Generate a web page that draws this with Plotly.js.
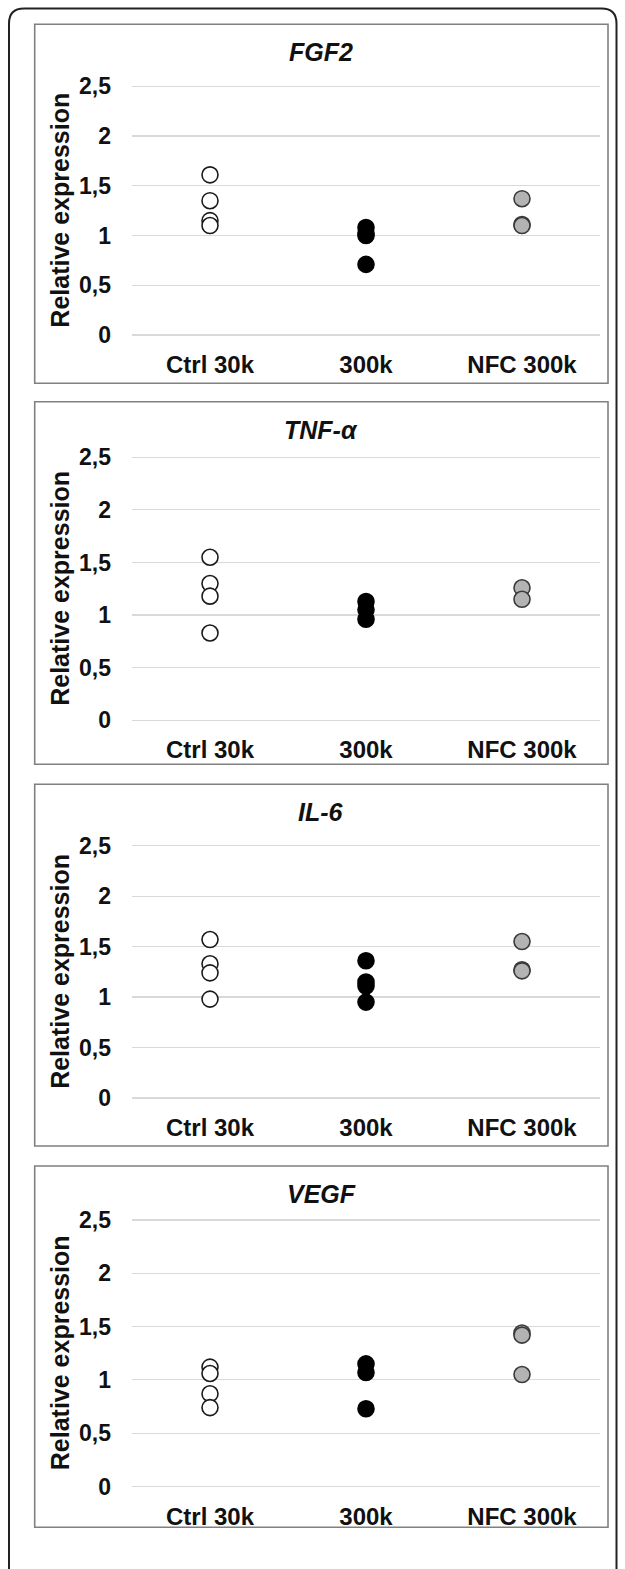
<!DOCTYPE html>
<html>
<head>
<meta charset="utf-8">
<script src="https://cdn.plot.ly/plotly-3.0.1.min.js"></script>
<style>
html,body{margin:0;padding:0;background:#fff;}
#chart{width:625px;height:1569px;}
</style>
</head>
<body>
<div id="chart"></div>
<script>
// ---- data ----
const genes = ["FGF2", "TNF-α", "IL-6", "VEGF"];
const groups = ["Ctrl 30k", "300k", "NFC 300k"];
const yTickVals = [0, 0.5, 1, 1.5, 2, 2.5];
const yTickText = ["0", "0,5", "1", "1,5", "2", "2,5"];
const yTitle = "Relative expression";

const fgf2Ctrl = [1.61, 1.35, 1.15, 1.10];
const fgf2_300k = [1.08, 1.02, 1.00, 0.71];
const fgf2Nfc = [1.37, 1.11, 1.10];

const tnfCtrl = [1.55, 1.30, 1.18, 0.83];
const tnf_300k = [1.13, 1.05, 0.96];
const tnfNfc = [1.26, 1.15];

const il6Ctrl = [1.57, 1.33, 1.24, 0.98];
const il6_300k = [1.36, 1.15, 1.11, 0.95];
const il6Nfc = [1.55, 1.27, 1.26];

const vegfCtrl = [1.12, 1.06, 0.87, 0.74];
const vegf_300k = [1.15, 1.07, 0.73];
const vegfNfc = [1.44, 1.42, 1.05];

const seriesByGene = [
  [fgf2Ctrl, fgf2_300k, fgf2Nfc],
  [tnfCtrl, tnf_300k, tnfNfc],
  [il6Ctrl, il6_300k, il6Nfc],
  [vegfCtrl, vegf_300k, vegfNfc]
];

// ---- layout geometry (pixels) ----
const W = 625, H = 1569;
const panelBoxes = [
  {top: 24.3, bottom: 383.3, y0: 335.0, y25: 86.3},
  {top: 401.7, bottom: 764.3, y0: 720.3, y25: 457.3},
  {top: 784.3, bottom: 1146.0, y0: 1098.0, y25: 845.7},
  {top: 1166.0, bottom: 1527.3, y0: 1486.5, y25: 1220.0}
];
const boxLeft = 34.7, boxRight = 608.0;
const plotLeft = 132, plotRight = 600;

const groupStyles = [
  {fill: "#ffffff", line: "#1a1a1a"},
  {fill: "#000000", line: "#000000"},
  {fill: "#b3b3b3", line: "#3a3a3a"}
];

const FONT = "Liberation Sans, Arial, sans-serif";
const traces = [];
const layout = {
  width: W, height: H,
  margin: {l: 0, r: 0, t: 0, b: 0},
  paper_bgcolor: "#ffffff",
  plot_bgcolor: "rgba(0,0,0,0)",
  showlegend: false,
  shapes: [],
  annotations: []
};

const rng = [-0.02, 2.52];

panelBoxes.forEach((p, i) => {
  const n = i + 1;
  const xa = "x" + (n === 1 ? "" : n);
  const ya = "y" + (n === 1 ? "" : n);
  const ppu = (p.y0 - p.y25) / 2.5;
  const pixTop = p.y25 - (rng[1] - 2.5) * ppu;
  const pixBot = p.y0 + (0 - rng[0]) * ppu;

  layout["xaxis" + (n === 1 ? "" : n)] = {
    domain: [plotLeft / W, plotRight / W],
    anchor: ya,
    type: "category",
    categoryarray: groups,
    range: [-0.5, 2.5],
    showgrid: false, zeroline: false, showline: false,
    ticks: "", ticklabelstandoff: 11,
    tickfont: {family: FONT, size: 24, color: "#111111", weight: "bold"},
    fixedrange: true
  };
  layout["yaxis" + (n === 1 ? "" : n)] = {
    domain: [1 - pixBot / H, 1 - pixTop / H],
    anchor: xa,
    range: rng,
    tickmode: "array", tickvals: yTickVals, ticktext: yTickText,
    showgrid: true, gridcolor: "#d9d9d9", gridwidth: 1.2,
    zeroline: false, showline: false, ticks: "",
    ticklabelstandoff: 20,
    tickfont: {family: FONT, size: 23, color: "#111111", weight: "bold"},
    fixedrange: true
  };

  seriesByGene[i].forEach((vals, g) => {
    traces.push({
      type: "scatter", mode: "markers",
      x: vals.map(() => groups[g]), y: vals,
      xaxis: xa, yaxis: ya,
      cliponaxis: false,
      marker: {size: 16, color: groupStyles[g].fill,
               line: {color: groupStyles[g].line, width: 1.6}},
      hoverinfo: "skip"
    });
  });

  layout.shapes.push({
    type: "rect", xref: "paper", yref: "paper",
    x0: boxLeft / W, x1: boxRight / W,
    y0: 1 - p.bottom / H, y1: 1 - p.top / H,
    line: {color: "#808080", width: 1.6}, fillcolor: "rgba(0,0,0,0)", layer: "above"
  });

  layout.annotations.push({
    xref: "paper", yref: "paper",
    x: ((boxLeft + boxRight) / 2) / W, y: 1 - (p.top + 28) / H,
    xanchor: "center", yanchor: "middle", showarrow: false,
    text: "<i>" + genes[i] + "</i>",
    font: {family: FONT, size: 25, color: "#111111", weight: "bold"}
  });
  layout.annotations.push({
    xref: "paper", yref: "paper",
    x: 60 / W, y: 1 - ((p.y0 + p.y25) / 2) / H,
    xanchor: "center", yanchor: "middle", showarrow: false,
    textangle: -90,
    text: yTitle,
    font: {family: FONT, size: 25, color: "#111111", weight: "bold"}
  });
});

// outer rounded frame (bottom edge runs off the page)
(function () {
  const l = 9, t = 8.5, r = 616.5, b = 1600, rad = 15;
  const X = v => (v / W).toFixed(5), Y = v => (1 - v / H).toFixed(5);
  const path = "M " + X(l) + "," + Y(b) +
    " L " + X(l) + "," + Y(t + rad) +
    " Q " + X(l) + "," + Y(t) + " " + X(l + rad) + "," + Y(t) +
    " L " + X(r - rad) + "," + Y(t) +
    " Q " + X(r) + "," + Y(t) + " " + X(r) + "," + Y(t + rad) +
    " L " + X(r) + "," + Y(b);
  layout.shapes.push({type: "path", xref: "paper", yref: "paper", path: path,
    line: {color: "#222222", width: 2}, layer: "above"});
})();

Plotly.newPlot("chart", traces, layout, {displayModeBar: false, staticPlot: true});
</script>
</body>
</html>
